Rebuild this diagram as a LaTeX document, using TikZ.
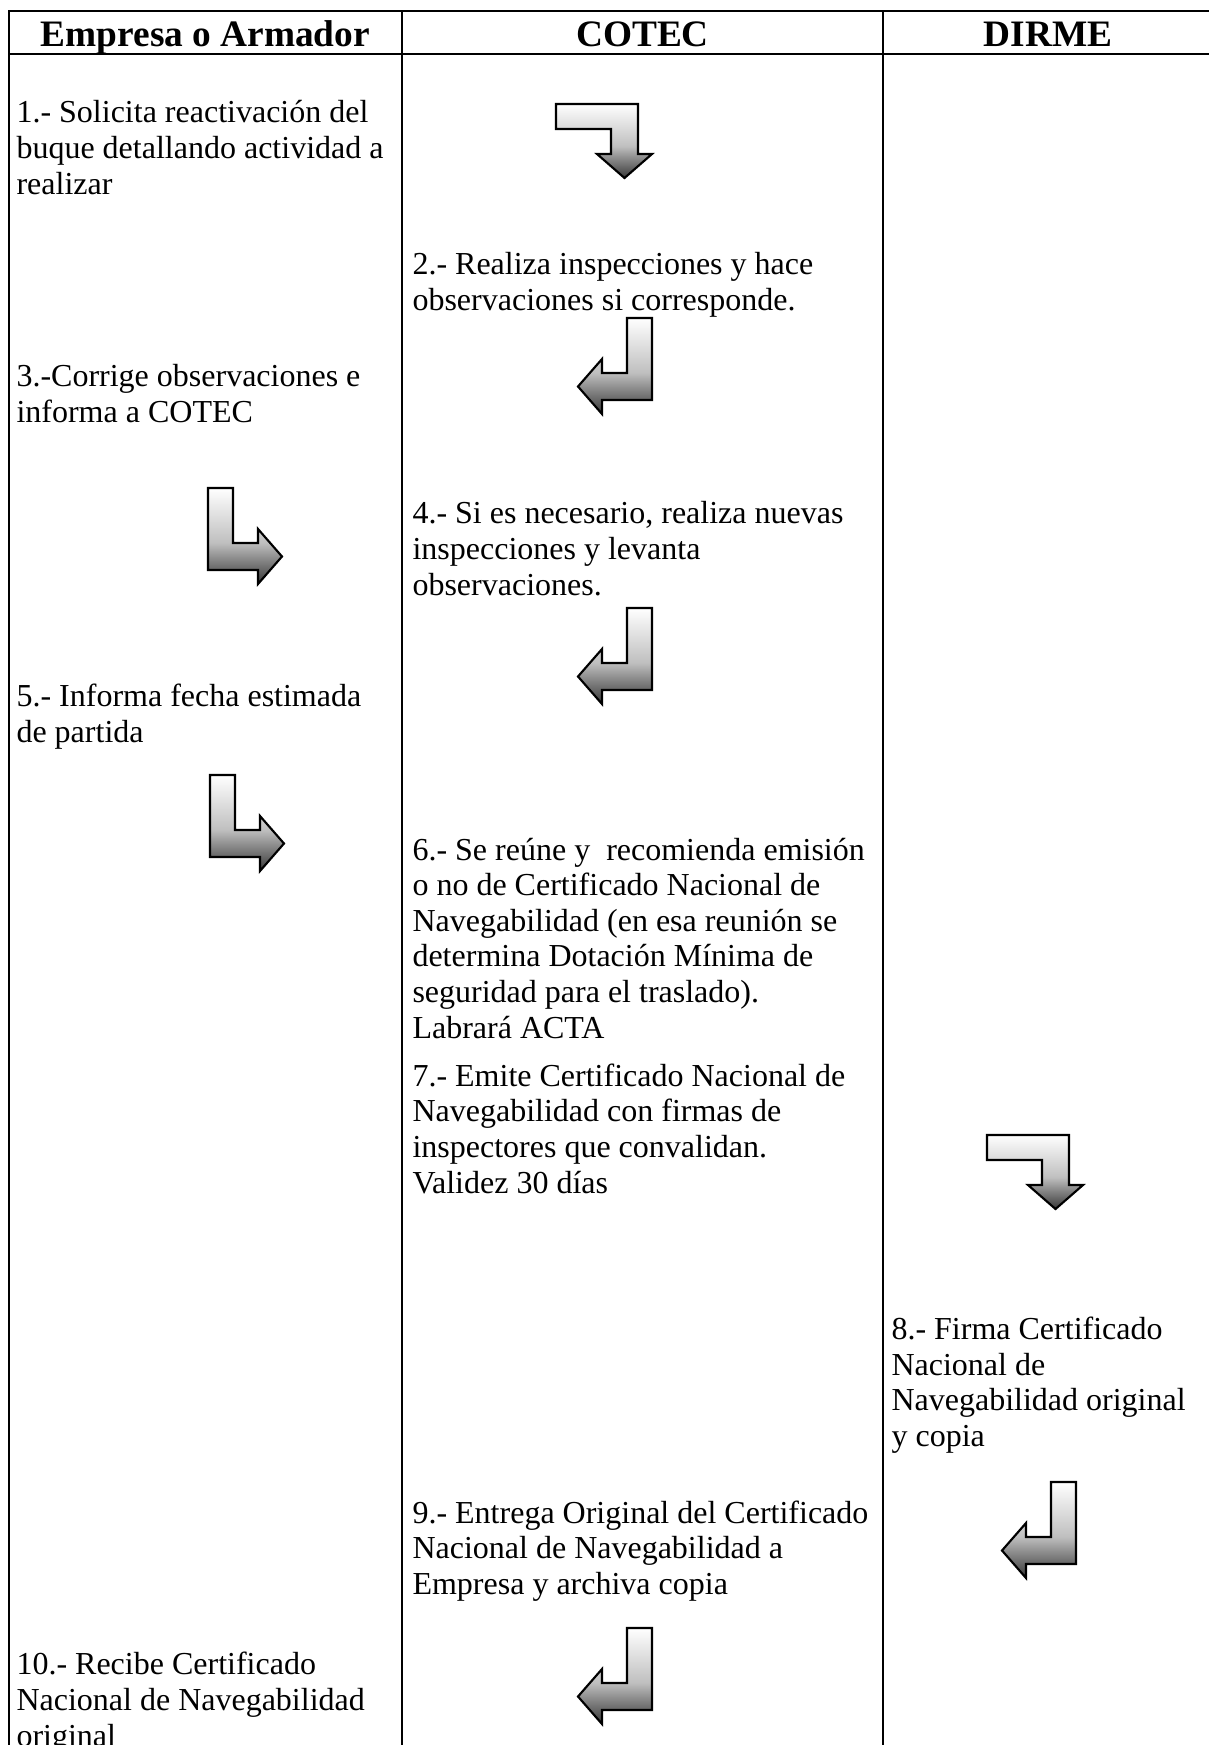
\documentclass[tikz,border=0pt]{standalone}
\usepackage{fontspec}
\setmainfont{Liberation Serif}

\pgfdeclareverticalshading{bentshade}{100bp}{color(0bp)=(black!78); color(25bp)=(black!78); color(39bp)=(black!44); color(46.5bp)=(black!25); color(75bp)=(white); color(100bp)=(white)}

\newcommand\pasotextstyle{\fontsize{12}{13.35}\selectfont}
\newcommand\headtextstyle{\fontsize{14}{16}\selectfont\bfseries}

\tikzset{
  rejilla/.style={line width=0.65pt},
  bentarrow/.style={draw=black, line width=0.8pt, line join=miter, shade, shading=bentshade},
  paso/.style={anchor=base west, inner sep=0pt, align=left, font=\pasotextstyle},
  cabecera/.style={anchor=base, inner sep=0pt, font=\headtextstyle},
}

\newcommand\bentdownright[2]{
  \draw[bentarrow] (#1, -#2) -- ++(25, 0) -- ++(0, -55) -- ++(25, 0) -- ++(0, 14)
    -- ++(24, -27.5) -- ++(-24, -27.5) -- ++(0, 14) -- ++(-50, 0) -- cycle ;
}
\newcommand\bentdownleft[2]{
  \draw[bentarrow] (#1, -#2) -- ++(-25, 0) -- ++(0, -55) -- ++(-25, 0) -- ++(0, 14)
    -- ++(-24, -27.5) -- ++(24, -27.5) -- ++(0, 14) -- ++(50, 0) -- cycle ;
}
\newcommand\bentrightdown[2]{
  \draw[bentarrow] (#1, -#2) -- ++(0, -25) -- ++(55, 0) -- ++(0, -25) -- ++(-14, 0)
    -- ++(27.5, -24) -- ++(27.5, 24) -- ++(-14, 0) -- ++(0, 50) -- cycle ;
}

\begin{document}
\begin{tikzpicture}[x=0.375pt, y=0.375pt]
  \useasboundingbox (0, 0) rectangle (1209, -1745) ;
  \clip (0, 0) rectangle (1209, -1745) ;

  \draw[rejilla] (9, -1760) -- (9, -11) -- (1213, -11) -- (1213, -1760) ;
  \draw[rejilla] (9, -54) -- (1213, -54) ;
  \draw[rejilla] (402, -11) -- (402, -1760) ;
  \draw[rejilla] (883, -11) -- (883, -1760) ;

  \node[cabecera] (hEmpresa) at (205.5, -46) {Empresa o Armador} ;
  \node[cabecera] (hCotec) at (642.5, -46) {COTEC} ;
  \node[cabecera] (hDirme) at (1048, -46) {DIRME} ;

  \node[paso] (paso1) at (16, -194) {1.- Solicita reactivación del\\buque detallando actividad a\\realizar} ;
  \node[paso] (paso2) at (412, -310) {2.- Realiza inspecciones y hace\\observaciones si corresponde.} ;
  \node[paso] (paso3) at (16, -422) {3.-Corrige observaciones e\\informa a COTEC} ;
  \node[paso] (paso4) at (412, -595) {4.- Si es necesario, realiza nuevas\\inspecciones y levanta\\observaciones.} ;
  \node[paso] (paso5) at (16, -742.5) {5.- Informa fecha estimada\\de partida} ;
  \node[paso] (paso6) at (412, -1038) {6.- Se reúne y\ \ recomienda emisión\\o no de Certificado Nacional de\\Navegabilidad (en esa reunión se\\determina Dotación Mínima de\\seguridad para el traslado).\\Labrará ACTA} ;
  \node[paso] (paso7) at (412, -1193) {7.- Emite Certificado Nacional de\\Navegabilidad con firmas de\\inspectores que convalidan.\\Validez 30 días} ;
  \node[paso] (paso8) at (891, -1446.5) {8.- Firma Certificado\\Nacional de\\Navegabilidad original\\y copia} ;
  \node[paso] (paso9) at (412, -1594.5) {9.- Entrega Original del Certificado\\Nacional de Navegabilidad a\\Empresa y archiva copia} ;
  \node[paso] (paso10) at (16, -1746) {10.- Recibe Certificado\\Nacional de Navegabilidad\\original} ;

  \bentrightdown{556}{104}
  \bentdownleft{652}{318}
  \bentdownright{208}{488}
  \bentdownleft{652}{608}
  \bentdownright{210}{775}
  \bentrightdown{987}{1135}
  \bentdownleft{1076}{1482}
  \bentdownleft{652}{1628}
\end{tikzpicture}
\end{document}
